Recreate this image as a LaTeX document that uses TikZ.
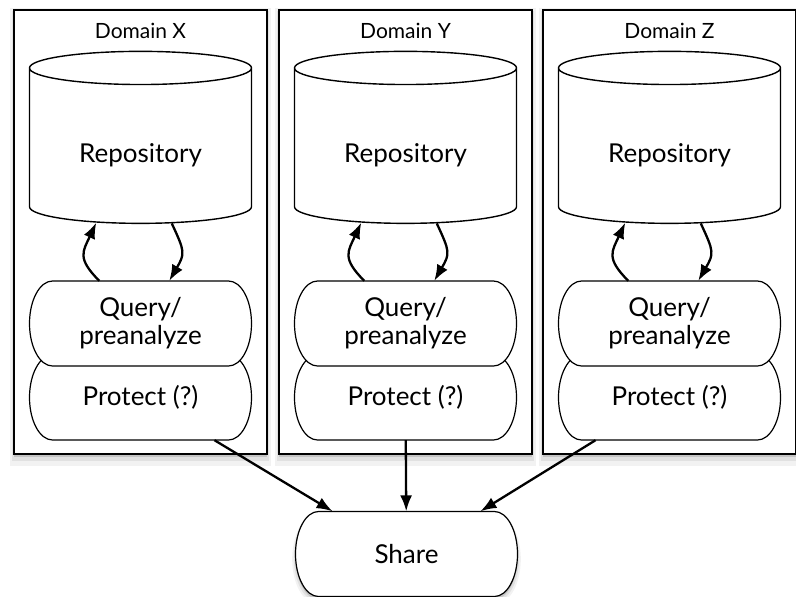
\documentclass[tikz,border=0pt]{standalone}
\usepackage{fontspec}
\setmainfont{Lato}
\usetikzlibrary{shapes.geometric,shadows,arrows.meta}

% outline of a pill: flat top and bottom, half-ellipse ends
\newcommand{\pillshape}[3][]{%
  \filldraw[pillline,#1] (#2-88,#3+42.5) -- (#2+88,#3+42.5)
    arc[start angle=90, end angle=-90, x radius=23pt, y radius=42.5pt]
    -- (#2-88,#3-42.5)
    arc[start angle=270, end angle=90, x radius=23pt, y radius=42.5pt] -- cycle;}

\begin{document}
\begin{tikzpicture}[x=1pt, y=1pt,
  softshadow/.style={
    drop shadow={shadow xshift=0pt, shadow yshift=-3pt, opacity=.3},
    drop shadow={shadow xshift=0pt, shadow yshift=-4pt, opacity=.15, shadow scale=1.015},
    drop shadow={shadow xshift=0pt, shadow yshift=-5pt, opacity=.1, shadow scale=1.03}},
  dombox/.style={draw, line width=1.8pt, fill=white, inner sep=0pt,
    minimum width=253pt, minimum height=444pt, softshadow},
  domlbl/.style={anchor=base, font=\fontsize{21}{24}\selectfont},
  repo/.style={cylinder, shape border rotate=90, aspect=0.27, draw, line width=1.4pt,
    fill=white, minimum width=222pt, minimum height=172pt, inner sep=0pt,
    text height=32pt, text depth=0pt, font=\fontsize{26}{28}\selectfont},
  pillline/.style={draw, line width=1.2pt, fill=white},
  pill/.style={rectangle, inner sep=0pt, minimum width=222pt, minimum height=85pt,
    align=center, font=\fontsize{26}{28}\selectfont},
  flow/.style={-{Latex[length=16pt,width=12pt]}, line width=2.3pt}]

  \useasboundingbox (0,0) rectangle (796,-597);

  \node[dombox] (domX) at (140.5,-232) {};
  \node[dombox] (domY) at (405.5,-232) {};
  \node[dombox] (domZ) at (669.5,-232) {};

  \node[domlbl] (lblX) at (140.5,-38) {Domain X};
  \node[domlbl] (lblY) at (405.5,-38) {Domain Y};
  \node[domlbl] (lblZ) at (669.5,-38) {Domain Z};

  \node[repo] (repoX) at (140.5,-146) {Repository};
  \node[repo] (repoY) at (405.5,-146) {Repository};
  \node[repo] (repoZ) at (669.5,-146) {Repository};

  % protect first, query overlaps it
  \pillshape{140.5}{-397.5} \node[pill] (protX) at (140.5,-397.5) {Protect (?)};
  \pillshape{405.5}{-397.5} \node[pill] (protY) at (405.5,-397.5) {Protect (?)};
  \pillshape{669.5}{-397.5} \node[pill] (protZ) at (669.5,-397.5) {Protect (?)};

  \pillshape{140.5}{-323.5} \node[pill] (queryX) at (140.5,-323.5) {Query/\\preanalyze};
  \pillshape{405.5}{-323.5} \node[pill] (queryY) at (405.5,-323.5) {Query/\\preanalyze};
  \pillshape{669.5}{-323.5} \node[pill] (queryZ) at (669.5,-323.5) {Query/\\preanalyze};

  \pillshape[softshadow]{406.5}{-554} \node[pill] (share) at (406.5,-554) {Share};

  \draw[flow] (queryX.134) to[out=135, in=-115, looseness=1.4] (repoX.240);
  \draw[flow] (repoX.-68) to[out=-65, in=60, looseness=1.4] (queryX.56);
  \draw[flow] (queryY.134) to[out=135, in=-115, looseness=1.4] (repoY.240);
  \draw[flow] (repoY.-68) to[out=-65, in=60, looseness=1.4] (queryY.56);
  \draw[flow] (queryZ.134) to[out=135, in=-115, looseness=1.4] (repoZ.240);
  \draw[flow] (repoZ.-68) to[out=-65, in=60, looseness=1.4] (queryZ.56);

  \draw[flow] (protX.-30) -- (share.150);
  \draw[flow] (protY) -- (share);
  \draw[flow] (protZ.-150) -- (share.30);
\end{tikzpicture}
\end{document}
